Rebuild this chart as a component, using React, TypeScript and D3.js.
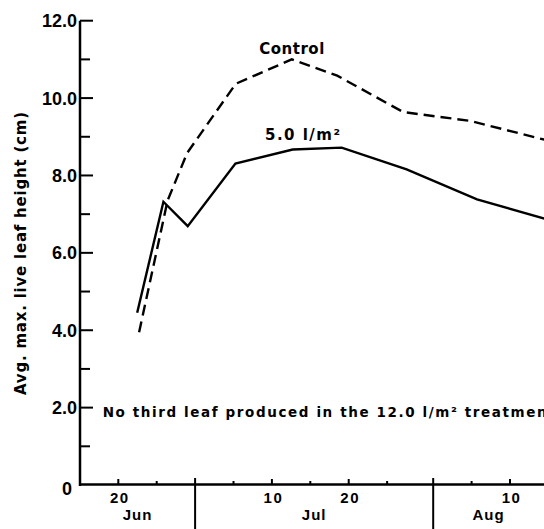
import React from "react";
import * as d3 from "d3";

// ---- data ----
const controlDates = [
  "2024-06-22T17:00Z", "2024-06-26T10:00Z", "2024-06-28T23:00Z", "2024-07-05T07:00Z",
  "2024-07-12T14:00Z", "2024-07-18T12:00Z", "2024-07-27T02:00Z", "2024-08-04T19:00Z",
  "2024-08-16T00:00Z",
];
const controlValues = [3.95, 7.35, 8.58, 10.37, 11.0, 10.58, 9.64, 9.41, 8.85];

const treatDates = [
  "2024-06-22T11:00Z", "2024-06-25T21:00Z", "2024-06-29T01:00Z", "2024-07-05T06:00Z",
  "2024-07-12T17:00Z", "2024-07-19T02:00Z", "2024-07-27T13:00Z", "2024-08-05T17:00Z",
  "2024-08-16T00:00Z",
];
const treatValues = [4.45, 7.32, 6.69, 8.31, 8.67, 8.72, 8.16, 7.38, 6.8];

const yMajorTicks = [0, 2, 4, 6, 8, 10, 12];
const yMinorTicks = [1, 3, 5, 7, 9, 11];
const xLabelTicks = ["2024-06-20", "2024-07-10", "2024-07-20", "2024-08-10"];
const xMinorTicks = ["2024-06-25", "2024-07-05", "2024-07-15", "2024-07-25", "2024-08-05"];
const monthBounds = ["2024-06-30", "2024-07-31"];
const monthLabels = ["Jun", "Jul", "Aug"];

const seriesLabels = ["Control", "5.0 l/m\u00B2"];
const yTitle = "Avg. max. live leaf height (cm)";
const note = "No third leaf produced in the 12.0 l/m\u00B2 treatment";

const W = 544;
const H = 529;
const FONT = "'Liberation Sans', Arial, sans-serif";
const WIDE = "'DejaVu Sans', 'Liberation Sans', sans-serif";

export default function App() {
  const x = d3
    .scaleUtc()
    .domain([new Date("2024-06-20T00:00Z"), new Date("2024-08-10T00:00Z")])
    .range([118.3, 510]);
  const y = d3.scaleLinear().domain([0, 12]).range([485, 20.7]);
  const x0 = 80;
  const xEnd = W;
  const y0 = y(0);

  const line = d3
    .line<[Date, number]>()
    .x((d) => x(d[0]))
    .y((d) => y(d[1]));

  const controlPts: [Date, number][] = controlDates.map((d, i) => [new Date(d), controlValues[i]]);
  const treatPts: [Date, number][] = treatDates.map((d, i) => [new Date(d), treatValues[i]]);

  const bounds = monthBounds.map((d) => x(new Date(d + "T00:00Z")));
  const segs = [x0, ...bounds, xEnd];
  const fmt = d3.utcFormat("%-d");

  return (
    <svg
      width={W}
      height={H}
      style={{ position: "absolute", left: 0, top: 0, background: "#fff" }}
      fontFamily={FONT}
      fontWeight="bold"
    >
      <rect width={W} height={H} fill="#fff" />
      {/* axes */}
      <line x1={x0} x2={x0} y1={y(12)} y2={y0 + 1} stroke="#000" strokeWidth={2.5} />
      <line x1={x0 - 1} x2={xEnd} y1={y0 - 0.5} y2={y0 - 0.5} stroke="#000" strokeWidth={2.5} />
      {yMajorTicks.map((v) => (
        <g key={"ym" + v}>
          {v > 0 && <line x1={x0} x2={x0 + 13} y1={y(v)} y2={y(v)} stroke="#000" strokeWidth={2} />}
          <text x={v === 0 ? 72 : 77} y={y(v) + (v === 0 ? 10 : 6.5)} textAnchor="end" fontSize={18} fill="#000">
            {v === 0 ? "0" : v.toFixed(1)}
          </text>
        </g>
      ))}
      {yMinorTicks.map((v) => (
        <line key={"yn" + v} x1={x0} x2={x0 + 10} y1={y(v)} y2={y(v)} stroke="#000" strokeWidth={2} />
      ))}
      {xLabelTicks.map((d) => {
        const dt = new Date(d + "T00:00Z");
        return (
          <g key={"xl" + d}>
            <line x1={x(dt)} x2={x(dt)} y1={y0} y2={y0 - 6} stroke="#000" strokeWidth={2} />
            <text x={x(dt) + 1.5} y={502.5} textAnchor="middle" fontSize={15} letterSpacing={1.5} fill="#000">
              {fmt(dt)}
            </text>
          </g>
        );
      })}
      {xMinorTicks.map((d) => {
        const dt = new Date(d + "T00:00Z");
        return <line key={"xm" + d} x1={x(dt)} x2={x(dt)} y1={y0} y2={y0 - 4} stroke="#000" strokeWidth={2} />;
      })}
      {bounds.map((bx, i) => (
        <line key={"mb" + i} x1={bx} x2={bx} y1={y0 - 7} y2={H} stroke="#000" strokeWidth={2} />
      ))}
      {monthLabels.map((m, i) => (
        <text
          key={m}
          x={(segs[i] + segs[i + 1]) / 2}
          y={520}
          textAnchor="middle"
          fontSize={15}
          letterSpacing={1}
          fill="#000"
        >
          {m}
        </text>
      ))}
      {/* y title */}
      <text
        transform={`translate(26, 253.5) rotate(-90)`}
        textAnchor="middle"
        fontSize={15}
        fontFamily={WIDE}
        textLength={283}
        lengthAdjust="spacing"
        fill="#000"
      >
        {yTitle}
      </text>
      {/* series */}
      <path d={line(controlPts) || ""} fill="none" stroke="#000" strokeWidth={2.4} strokeDasharray="11,6" />
      <path d={line(treatPts) || ""} fill="none" stroke="#000" strokeWidth={2.4} />
      <text x={259.3} y={54} fontSize={15} fontFamily={WIDE} textLength={65} lengthAdjust="spacing" fill="#000">
        {seriesLabels[0]}
      </text>
      <text x={265} y={140} fontSize={15} fontFamily={WIDE} textLength={75} lengthAdjust="spacing" fill="#000">
        {seriesLabels[1]}
      </text>
      <text x={102.7} y={417.3} fontSize={13.5} fontFamily={WIDE} textLength={452} lengthAdjust="spacing" fill="#000">
        {note}
      </text>
    </svg>
  );
}
